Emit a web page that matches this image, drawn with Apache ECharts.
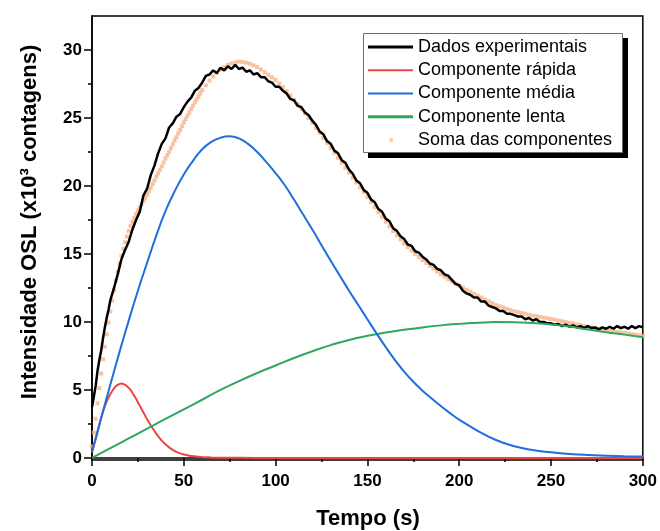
<!DOCTYPE html>
<html>
<head>
<meta charset="utf-8">
<script src="https://cdn.jsdelivr.net/npm/echarts@6/dist/echarts.min.js"></script>
<style>html,body{margin:0;padding:0;background:#fff}#c{width:660px;height:531px}</style>
</head>
<body>
<div id="c"></div>
<script>
// ---- data ----
const xTicks = [0, 50, 100, 150, 200, 250, 300];
const yTicks = [0, 5, 10, 15, 20, 25, 30];
const yMinorTicks = [2.5, 7.5, 12.5, 17.5, 22.5, 27.5];

const blackTime = [0,1,2,3,4,5,6,7,8,9,10,12,14,16,18,20,22,24,26,28,30,32,34,36,38,40,42,44,46,48,50,52,54,56,58,60,62,64,66,68,70,72,74,76,78,80,82,84,86,88,90,92,94,96,98,100,102,104,106,108,110,112,114,116,118,120,122,124,126,128,130,132,134,136,138,140,142,144,146,148,150,152,154,156,158,160,162,164,166,168,170,172,174,176,178,180,182,184,186,188,190,192,194,196,198,200,202,204,206,208,210,212,214,216,218,220,222,224,226,228,230,232,234,236,238,240,242,244,246,248,250,252,254,256,258,260,262,264,266,268,270,272,274,276,278,280,282,284,286,288,290,292,294,296,298,300];
const blackData = [3.75,4.5,5.3,6.4,7.2,7.9,8.8,9.6,10.3,10.9,11.6,12.5,13.5,14.6,15.3,15.9,16.8,17.5,18.1,19.3,19.8,20.8,21.5,22.4,23.1,23.5,24.3,24.6,25.1,25.3,25.8,26.2,26.5,27.0,27.2,27.6,28.1,28.2,28.5,28.3,28.7,28.5,28.8,28.6,28.9,28.6,28.7,28.4,28.5,28.2,28.3,28.0,28.0,27.7,27.6,27.3,27.3,27.0,26.8,26.4,26.3,25.9,25.8,25.4,25.2,24.8,24.5,24.0,23.8,23.3,23.1,22.6,22.4,21.9,21.7,21.2,20.9,20.4,20.2,19.7,19.5,19.0,18.8,18.3,18.1,17.6,17.4,16.9,16.7,16.3,16.1,15.7,15.6,15.2,15.1,14.8,14.6,14.3,14.2,13.9,13.8,13.5,13.4,13.1,12.8,12.7,12.3,12.1,12.0,11.8,11.8,11.5,11.5,11.2,11.1,11.0,10.8,10.8,10.6,10.6,10.5,10.4,10.4,10.2,10.3,10.1,10.2,10.0,10.0,9.9,9.9,9.8,9.85,9.7,9.8,9.65,9.75,9.6,9.7,9.55,9.7,9.55,9.6,9.45,9.6,9.5,9.65,9.5,9.7,9.55,9.65,9.5,9.7,9.55,9.7,9.6];

const redTime = [0,1,2,3,4,5,6,7,8,9,10,11,12,13,14,15,16,17,18,19,20,21,22,23,24,25,26,27,28,29,30,31,32,33,34,35,36,37,38,39,40,42,44,46,48,50,52,54,56,58,60,65,70,80,100,150,200,250,300];
const redData = [0.4,0.88,1.38,1.9,2.42,2.92,3.38,3.8,4.15,4.45,4.7,4.93,5.12,5.27,5.37,5.44,5.47,5.44,5.38,5.28,5.15,5.0,4.8,4.58,4.35,4.1,3.85,3.6,3.35,3.1,2.85,2.62,2.4,2.19,1.98,1.79,1.6,1.44,1.28,1.14,1.0,0.78,0.6,0.45,0.34,0.26,0.2,0.15,0.12,0.09,0.07,0.04,0.02,0.01,0,0,0,0,0];

const blueTime = [0,5,10,15,20,25,30,35,40,45,50,55,60,65,70,75,80,85,90,95,100,105,110,115,120,125,130,135,140,145,150,155,160,165,170,175,180,185,190,195,200,210,220,230,240,250,260,270,280,290,300];
const blueData = [0.45,2.95,5.4,7.8,10.1,12.3,14.35,16.35,18.15,19.6,20.85,21.85,22.7,23.25,23.55,23.65,23.5,23.1,22.5,21.75,20.95,20.05,19.0,17.9,16.8,15.65,14.5,13.4,12.3,11.25,10.2,9.15,8.15,7.2,6.35,5.6,4.95,4.38,3.82,3.3,2.82,2.0,1.32,0.86,0.58,0.42,0.3,0.22,0.17,0.13,0.1];

const greenTime = [0,10,20,30,40,50,60,70,80,90,100,110,120,130,140,150,160,170,180,190,200,210,220,230,240,250,260,270,280,290,300];
const greenData = [0,0.72,1.44,2.15,2.87,3.57,4.28,5.0,5.65,6.25,6.8,7.35,7.85,8.3,8.68,8.98,9.22,9.42,9.6,9.75,9.86,9.94,9.99,9.98,9.92,9.82,9.66,9.45,9.25,9.07,8.88];

const sumTime = [0,1,2,3,4,5,6,7,8,9,10,11,12,13,14,15,16,17,18,19,20,21,22,23,24,25,26,27,28,29,30,31,32,33,34,35,36,37,38,39,40,41,42,43,44,45,46,47,48,49,50,51,52,53,54,55,56,57,58,59,60,62,64,66,68,70,72,74,76,78,80,82,84,86,88,90,92,94,96,98,100,102,104,106,108,110,112,114,116,118,120,122,124,126,128,130,132,134,136,138,140,142,144,146,148,150,152,154,156,158,160,162,164,166,168,170,172,174,176,178,180,182,184,186,188,190,192,194,196,198,200,202,204,206,208,210,212,214,216,218,220,222,224,226,228,230,232,234,236,238,240,242,244,246,248,250,252,254,256,258,260,262,264,266,268,270,272,274,276,278,280,282,284,286,288,290,292,294,296,298,300];
const sumData = [0.85,1.87,2.89,4.02,5.14,6.21,7.27,8.18,9.1,9.96,10.77,11.57,12.32,13.03,13.68,14.31,14.88,15.38,15.86,16.29,16.69,17.05,17.36,17.66,17.94,18.2,18.43,18.66,18.9,19.13,19.35,19.6,19.86,20.13,20.4,20.69,20.93,21.19,21.45,21.73,22.02,22.27,22.52,22.79,23.06,23.34,23.59,23.86,24.12,24.4,24.68,24.92,25.16,25.41,25.66,25.91,26.14,26.36,26.59,26.82,27.05,27.4,27.76,28.06,28.32,28.57,28.74,28.9,29.01,29.08,29.15,29.11,29.07,28.99,28.87,28.75,28.56,28.37,28.18,27.99,27.8,27.53,27.26,26.97,26.66,26.35,26.01,25.67,25.33,24.99,24.65,24.28,23.91,23.54,23.17,22.8,22.44,22.07,21.71,21.34,20.98,20.62,20.26,19.9,19.54,19.18,18.81,18.44,18.07,17.72,17.37,17.03,16.69,16.37,16.07,15.77,15.51,15.24,15.0,14.77,14.55,14.34,14.13,13.92,13.71,13.5,13.32,13.14,12.98,12.82,12.66,12.52,12.37,12.23,12.08,11.94,11.8,11.66,11.52,11.38,11.24,11.15,11.06,10.96,10.87,10.78,10.72,10.66,10.6,10.53,10.47,10.42,10.37,10.32,10.27,10.22,10.17,10.11,10.05,9.99,9.94,9.88,9.82,9.76,9.71,9.65,9.6,9.55,9.5,9.45,9.4,9.35,9.32,9.27,9.24,9.19,9.15,9.1,9.07,9.02,8.98];

const names = ['Dados experimentais', 'Componente rápida', 'Componente média', 'Componente lenta', 'Soma das componentes'];
const xTitle = 'Tempo (s)';
const yTitle = 'Intensidade OSL (x10³ contagens)';

// ---- chart ----
const FONT = 'Arial, "Liberation Sans", sans-serif';
function pairs(t, v) { return t.map((x, i) => [x, v[i]]); }
const lineIcon = 'path://M0,0M45,14M0,6h45v2h-45z';
const thickLineIcon = 'path://M0,0M45,14M0,5.6h45v2.8h-45z';
const dotIcon = 'path://M0,0M45,14M21.5,5.3h3.4v3.4h-3.4z';

const chart = echarts.init(document.getElementById('c'), null, { renderer: 'canvas' });
chart.setOption({
  animation: false,
  backgroundColor: '#fff',
  grid: { left: 92, right: 16, top: 16, bottom: 71, show: true, borderColor: '#000', borderWidth: 1.5, backgroundColor: 'transparent' },
  xAxis: {
    type: 'value', min: 0, max: 300, interval: 50,
    axisLine: { show: true, lineStyle: { color: '#000', width: 1.5 } },
    axisTick: { show: true, inside: false, length: 8, lineStyle: { color: '#000', width: 1.5 } },
    minorTick: { show: true, splitNumber: 2, length: 4, lineStyle: { color: '#000', width: 1.5 } },
    axisLabel: { color: '#000', fontSize: 17, fontWeight: 'bold', fontFamily: FONT, margin: 13, customValues: xTicks },
    splitLine: { show: false }, minorSplitLine: { show: false }
  },
  yAxis: [{
    type: 'value', min: -0.15, max: 32.5,
    axisLine: { show: true, lineStyle: { color: '#000', width: 1.5 } },
    axisTick: { show: true, inside: false, length: 8, customValues: yTicks, lineStyle: { color: '#000', width: 1.5 } },
    axisLabel: { color: '#000', fontSize: 17, fontWeight: 'bold', fontFamily: FONT, margin: 10, customValues: yTicks },
    splitLine: { show: false }
  }, {
    type: 'value', min: -0.15, max: 32.5, position: 'left',
    axisLine: { show: false },
    axisTick: { show: true, inside: false, length: 4, customValues: yMinorTicks, lineStyle: { color: '#000', width: 1.5 } },
    axisLabel: { show: false },
    splitLine: { show: false }
  }],
  legend: {
    orient: 'vertical', left: 368, top: 38, padding: 0,
    itemWidth: 45, itemHeight: 14, itemGap: 5.25,
    textStyle: { fontSize: 18, color: '#000', fontFamily: FONT },
    z: 20,
    data: [
      { name: names[0], icon: thickLineIcon },
      { name: names[1], icon: lineIcon },
      { name: names[2], icon: lineIcon },
      { name: names[3], icon: thickLineIcon },
      { name: names[4], icon: dotIcon }
    ]
  },
  graphic: [
    { type: 'rect', z: 18, shape: { x: 368, y: 38, width: 260, height: 120 }, style: { fill: '#000' } },
    { type: 'rect', z: 19, shape: { x: 363.5, y: 33.5, width: 259, height: 119 }, style: { fill: '#fff', stroke: '#6e6e6e', lineWidth: 1 } },
    { type: 'text', z: 5, x: 368, y: 519, style: { text: xTitle, font: 'bold 22px ' + FONT, fill: '#000', textAlign: 'center', textVerticalAlign: 'middle' } },
    { type: 'text', z: 5, x: 30, y: 222, rotation: Math.PI / 2, style: { text: yTitle, font: 'bold 22px ' + FONT, fill: '#000', textAlign: 'center', textVerticalAlign: 'middle' } }
  ],
  series: [
    { name: names[4], type: 'scatter', data: pairs(sumTime, sumData), symbol: 'rect', symbolSize: 4, itemStyle: { color: '#F7B48A' }, z: 2, silent: true },
    { name: names[0], type: 'line', data: pairs(blackTime, blackData), showSymbol: false, symbol: 'none', lineStyle: { color: '#000', width: 2.5 }, itemStyle: { color: '#000' }, z: 3 },
    { name: names[1], type: 'line', data: pairs(redTime, redData), showSymbol: false, symbol: 'none', smooth: 0.3, lineStyle: { color: '#F04444', width: 2 }, itemStyle: { color: '#F04444' }, z: 4 },
    { name: names[3], type: 'line', data: pairs(greenTime, greenData), showSymbol: false, symbol: 'none', smooth: 0.5, lineStyle: { color: '#2EA85F', width: 2 }, itemStyle: { color: '#2EA85F' }, z: 4 },
    { name: names[2], type: 'line', data: pairs(blueTime, blueData), showSymbol: false, symbol: 'none', smooth: 0.5, lineStyle: { color: '#1E6FDC', width: 2 }, itemStyle: { color: '#1E6FDC' }, z: 5 }
  ]
});
</script>
</body>
</html>
